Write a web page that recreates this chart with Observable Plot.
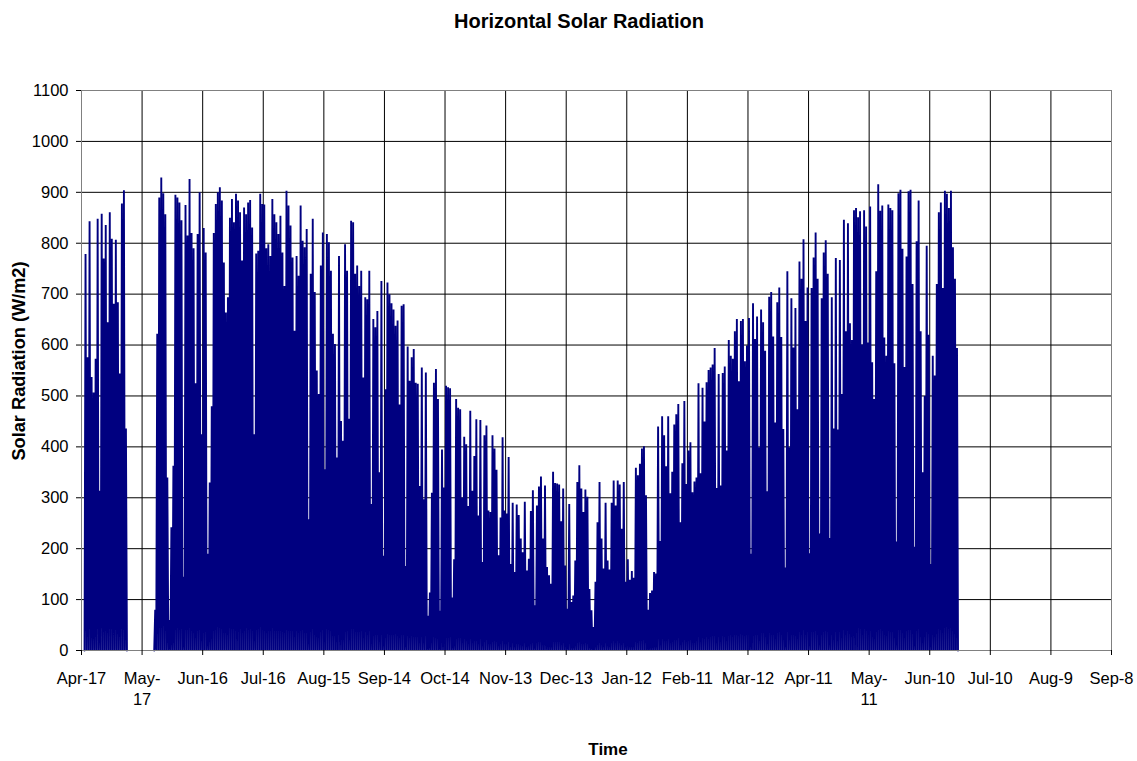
<!DOCTYPE html>
<html>
<head>
<meta charset="utf-8">
<script src="https://cdn.jsdelivr.net/npm/d3@7"></script>
<script src="https://cdn.jsdelivr.net/npm/@observablehq/plot@0.6"></script>
<style>
  html, body { margin: 0; padding: 0; background: #fff; }
  #wrap { position: relative; width: 1137px; height: 761px; font-family: "Liberation Sans", Arial, sans-serif; overflow: hidden; }
  #wrap svg { position: absolute; left: 0; top: 0; }
  .title { position: absolute; left: 0; width: 1158px; top: 10px; text-align: center; font-weight: bold; font-size: 20px; color: #000; }
  .xlab { position: absolute; left: 508px; width: 200px; top: 741px; text-align: center; font-weight: bold; font-size: 17px; line-height: 18px; color: #000; }
  .ylab { position: absolute; left: 19px; top: 361px; transform: translate(-50%, -50%) rotate(-90deg); white-space: nowrap; font-weight: bold; font-size: 18.2px; color: #000; }
</style>
</head>
<body>
<div id="wrap">
  <div class="title">Horizontal Solar Radiation</div>
  <div class="ylab">Solar Radiation (W/m2)</div>
  <div class="xlab">Time</div>
</div>
<script>
// Day offsets are counted from Apr-17 (first x tick)
const tickDays = [0, 30, 60, 90, 120, 150, 180, 210, 240, 270, 300, 330, 360, 390, 420, 450, 480, 510];
const tickLabels = ["Apr-17", "May-\n17", "Jun-16", "Jul-16", "Aug-15", "Sep-14", "Oct-14", "Nov-13", "Dec-13",
  "Jan-12", "Feb-11", "Mar-12", "Apr-11", "May-\n11", "Jun-10", "Jul-10", "Aug-9", "Sep-8"];
const yTicks = [0, 100, 200, 300, 400, 500, 600, 700, 800, 900, 1000, 1100];

// first recording period (daily peak, W/m2)
const seg1Start = 1.5;
const seg1Peaks = [779, 576, 843, 537, 507, 573, 848, 314, 858, 770, 836, 645, 861, 809, 681, 807, 684, 544, 878, 904, 436];

// second recording period (daily peak, W/m2)
const seg2Start = 36;
const seg2Peaks = [
  80, 622, 890, 929, 898, 857, 340, 60, 242, 363, 895, 890,
  880, 845, 145, 875, 815, 926, 820, 790, 525, 818, 900, 425, 830, 782, 190, 330, 480, 820, 877, 900, 910, 884, 762, 664, 694, 850, 887, 841, 897, 884, 861, 766, 870, 857, 880, 885, 831, 425, 780, 785, 897, 877, 876, 790, 798, 775, 887, 857, 841, 818,
  854, 782, 716, 903, 874, 835, 772, 628, 775, 736, 874, 805, 792, 828, 258, 740, 848, 704, 550, 504, 756, 821, 356, 818, 802, 746, 622, 602, 379, 775, 451, 412, 798, 746, 455, 844, 841, 740, 756, 716, 746, 536, 694, 690, 746, 288, 651, 635, 667, 350,
  726, 186, 513, 723, 700, 682, 670, 638, 648, 483, 677, 680, 166, 597, 530, 576, 592, 526, 524, 323, 556, 297, 546, 68, 114, 310, 526, 553, 494, 78, 395, 320, 520, 517, 515, 104, 179, 494, 477, 474, 300, 420, 405, 284, 471, 314, 382, 454,
  265, 453, 174, 423, 442, 275, 272, 423, 397, 355, 187, 261, 419, 275, 269, 380, 170, 290, 154, 287, 266, 220, 193, 292, 157, 180, 274, 315, 89, 285, 322, 342, 220, 324, 164, 148, 131, 351, 329, 328, 326, 254, 318, 167, 82, 288, 95, 108, 177, 331,
  364, 318, 272, 316, 302, 121, 79, 46, 135, 252, 331, 220, 161, 290, 177, 159, 290, 334, 285, 334, 326, 239, 331, 135, 179, 139, 156, 143, 359, 344, 367, 397, 401, 305, 80, 113, 118, 154, 151, 440, 215, 460, 423, 362, 460, 309, 351, 444, 464,
  484, 252, 368, 490, 327, 393, 409, 311, 332, 340, 525, 348, 516, 450, 527, 551, 556, 562, 594, 319, 543, 324, 545, 558, 393, 610, 579, 573, 627, 651, 529, 647, 651, 568, 599, 653, 190, 682, 612, 656, 399, 670, 645, 589, 313, 695, 704, 617, 448, 684,
  713, 616, 435, 163, 745, 399, 692, 595, 673, 474, 764, 730, 808, 647, 713, 191, 712, 772, 821, 730, 230, 692, 782, 806, 740, 221, 694, 436, 771, 434, 767, 504, 846, 627, 839, 643, 610, 865, 869, 851, 863, 601, 865, 833, 605, 872,
  566, 494, 745, 916, 864, 874, 615, 579, 876, 869, 865, 564, 214, 898, 905, 789, 557, 774, 902, 905, 720, 204, 804, 884, 627, 350, 500, 795, 620, 170, 579, 540, 720, 861, 880, 712, 903, 897, 869, 903, 792, 730, 594
];

// each day: night (0) -> noon peak -> night (0)
function dailySeries(start, peaks, seg) {
  const pts = [];
  peaks.forEach((p, i) => {
    pts.push({day: start + i, value: 0, seg});
    pts.push({day: start + i + 0.5, value: p, seg});
  });
  pts.push({day: start + peaks.length, value: 0, seg});
  return pts;
}
const series = [...dailySeries(seg1Start, seg1Peaks, 1), ...dailySeries(seg2Start, seg2Peaks, 2)];

const fontFamily = '"Liberation Sans", Arial, sans-serif';
const chart = Plot.plot({
  width: 1137,
  height: 761,
  marginLeft: 81,
  marginRight: 26,
  marginTop: 90,
  marginBottom: 111,
  style: {fontFamily, fontSize: "16.5px", color: "#000", background: "transparent", overflow: "visible"},
  x: {domain: [0, 510]},
  y: {domain: [0, 1100]},
  marks: [
    Plot.gridY(yTicks, {stroke: "#000", strokeOpacity: 1, strokeWidth: 1}),
    Plot.gridX(tickDays, {stroke: "#000", strokeOpacity: 1, strokeWidth: 1}),
    Plot.line(series, {x: "day", y: "value", z: "seg", stroke: "#000080", strokeWidth: 1.9, strokeLinejoin: "miter", strokeMiterlimit: 2}),
    Plot.frame({stroke: "#808080", strokeWidth: 1}),
    Plot.axisY(yTicks, {tickSize: 5, tickPadding: 8, label: null, fontSize: 16.5, stroke: "#000",
      tickFormat: (d) => String(d)}),
    Plot.axisX(tickDays, {tickSize: 5, tickPadding: 14, label: null, fontSize: 16.5, lineHeight: 1.27,
      tickFormat: (d) => tickLabels[tickDays.indexOf(d)], stroke: "#000"})
  ]
});
document.getElementById("wrap").prepend(chart);
</script>
</body>
</html>
